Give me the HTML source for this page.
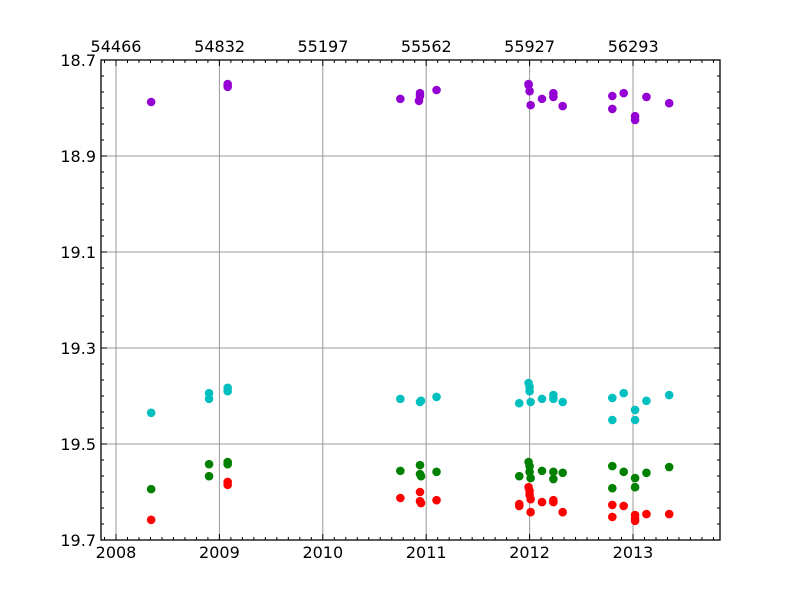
<!DOCTYPE html>
<html><head><meta charset="utf-8"><style>
html,body{margin:0;padding:0;background:#fff;}
svg text{font-family:"DejaVu Sans","Liberation Sans",sans-serif;font-size:16px;fill:#000;}
</style></head><body>
<svg id="chart" width="800" height="600" xmlns="http://www.w3.org/2000/svg">
<rect width="800" height="600" fill="#fff"/>
<g id="grid"></g>
<g id="marks"></g>
<g id="axes"></g>
</svg>
<script>
const yearTicks=[2008,2009,2010,2011,2012,2013];
const mjdTicks=[54466,54832,55197,55562,55927,56293];
const magTicks=[18.7,18.9,19.1,19.3,19.5,19.7];
const purpleX=[2008.34,2009.08,2009.08,2010.75,2010.93,2010.94,2010.94,2011.10,2011.99,2011.99,2012.00,2012.01,2012.12,2012.23,2012.23,2012.32,2012.80,2012.80,2012.91,2013.02,2013.02,2013.13,2013.35];
const purpleY=[18.7875,18.75,18.756,18.781,18.785,18.769,18.775,18.7625,18.75,18.752,18.765,18.794,18.781,18.769,18.777,18.796,18.775,18.802,18.769,18.817,18.825,18.777,18.790];
const cyanX=[2008.34,2008.90,2008.90,2009.08,2009.08,2010.75,2010.94,2010.95,2011.10,2011.90,2011.99,2012.00,2012.00,2012.01,2012.12,2012.23,2012.23,2012.32,2012.80,2012.80,2012.91,2013.02,2013.02,2013.13,2013.35];
const cyanY=[19.435,19.406,19.394,19.383,19.390,19.406,19.4125,19.410,19.402,19.415,19.373,19.381,19.390,19.4125,19.406,19.398,19.406,19.4125,19.404,19.45,19.394,19.429,19.45,19.410,19.398];
const greenX=[2008.34,2008.90,2008.90,2009.08,2009.08,2010.75,2010.94,2010.94,2010.95,2011.10,2011.90,2011.99,2012.00,2012.00,2012.01,2012.12,2012.23,2012.23,2012.32,2012.80,2012.80,2012.91,2013.02,2013.02,2013.13,2013.35];
const greenY=[19.594,19.567,19.542,19.5375,19.542,19.556,19.544,19.5625,19.567,19.558,19.567,19.5375,19.546,19.558,19.571,19.556,19.558,19.573,19.560,19.546,19.592,19.558,19.571,19.590,19.560,19.548];
const redX=[2008.34,2009.08,2009.08,2010.75,2010.94,2010.94,2010.95,2011.10,2011.90,2011.90,2011.99,2012.00,2012.00,2012.01,2012.01,2012.12,2012.23,2012.23,2012.32,2012.80,2012.80,2012.91,2013.02,2013.02,2013.02,2013.13,2013.35];
const redY=[19.658,19.579,19.585,19.6125,19.600,19.619,19.623,19.617,19.625,19.629,19.590,19.598,19.606,19.615,19.642,19.621,19.617,19.621,19.642,19.627,19.652,19.629,19.648,19.656,19.660,19.646,19.646];

const L=101,R=720,T=60,B=540;
const x0=2008,pxYear=103.4,xOrigin=116;
function sx(v){return xOrigin+(v-x0)*pxYear;}
function sy(v){return T+(v-18.7)/1.0*(B-T);}
function sxm(m){return sx(2008+(m-54466)/365.25);}
const NS="http://www.w3.org/2000/svg";
function mk(tag,attrs,parent){const e=document.createElementNS(NS,tag);for(const k in attrs)e.setAttribute(k,attrs[k]);parent.appendChild(e);return e;}
const grid=document.getElementById('grid'),marks=document.getElementById('marks'),axes=document.getElementById('axes');
yearTicks.forEach(v=>{const l=mk('line',{x1:sx(v),x2:sx(v),y1:T,y2:B,stroke:'#999','stroke-width':1},grid);
});
magTicks.forEach(v=>{const l=mk('line',{x1:L,x2:R,y1:sy(v),y2:sy(v),stroke:'#999','stroke-width':1},grid);
});
function series(xs,ys,color,name){xs.forEach((v,i)=>{const c=mk('circle',{cx:sx(v),cy:sy(ys[i]),r:4.3,fill:color},marks);
});}
series(purpleX,purpleY,'#9400d3','purple-point');
series(cyanX,cyanY,'#00bfbf','cyan-point');
series(greenX,greenY,'#008000','green-point');
series(redX,redY,'#ff0000','red-point');
const frame=mk('rect',{x:L,y:T,width:R-L,height:B-T,fill:'none',stroke:'#000','stroke-width':1.3},axes);

for(let v=18.7;v<=19.7001;v+=0.2/6){const y=sy(v);const major=Math.abs(((v-18.7)/0.2)-Math.round((v-18.7)/0.2))<1e-6;const len=major?6:3;
mk('line',{x1:L,x2:L+len,y1:y,y2:y,stroke:'#000'},axes);mk('line',{x1:R,x2:R-len,y1:y,y2:y,stroke:'#000'},axes);}
magTicks.forEach(v=>{const t=mk('text',{x:L-5,y:sy(v)+6,'text-anchor':'end'},axes);t.textContent=v.toFixed(1);
});
for(let v=2007;v<=2014;v+=1/9){const x=sx(v);if(x<L||x>R)continue;const major=Math.abs(v-Math.round(v))<1e-6;const len=major?6:3;
mk('line',{x1:x,x2:x,y1:B,y2:B-len,stroke:'#000'},axes);mk('line',{x1:x,x2:x,y1:T,y2:T+len,stroke:'#000'},axes);}
yearTicks.forEach(v=>{const t=mk('text',{x:sx(v),y:558,'text-anchor':'middle'},axes);t.textContent=v;
});
mjdTicks.forEach(v=>{const t=mk('text',{x:sxm(v),y:52,'text-anchor':'middle'},axes);t.textContent=v;
});
</script>
</body></html>
